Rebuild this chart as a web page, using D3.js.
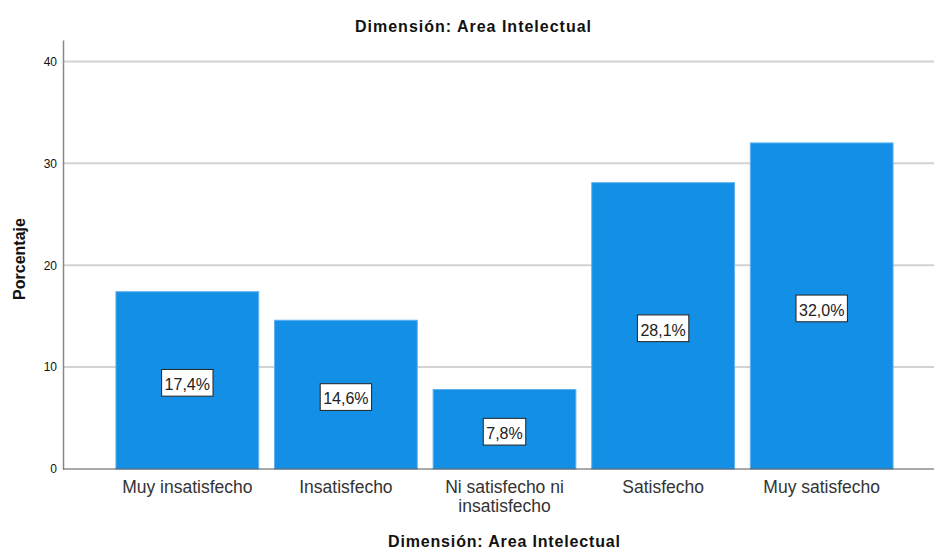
<!DOCTYPE html>
<html>
<head>
<meta charset="utf-8">
<script src="https://cdn.jsdelivr.net/npm/d3@7"></script>
<style>
  body { margin: 0; background: #fff; }
  svg { display: block; font-family: "Liberation Sans", Arial, sans-serif; }
</style>
</head>
<body>
<svg id="chart" width="934" height="548"></svg>
<script>
const categories = ["Muy insatisfecho", "Insatisfecho", "Ni satisfecho ni insatisfecho", "Satisfecho", "Muy satisfecho"];
const values = [17.4, 14.6, 7.8, 28.1, 32.0];
const yTicks = [0, 10, 20, 30, 40];
const chartTitle = "Dimensión: Area Intelectual";
const xTitle = "Dimensión: Area Intelectual";
const yTitle = "Porcentaje";

(function () {
const svg = d3.select("#chart");
const mLeft = 63, mRight = 934, mTop = 40, mBottom = 469;

const x = d3.scaleBand().domain(categories).range([108, 901]).paddingInner(0.1).paddingOuter(0.05);
const y = d3.scaleLinear().domain([0, 42.1]).range([mBottom, mTop]);

// gridlines
svg.append("g").selectAll("line").data(yTicks.filter(d => d > 0)).join("line")
  .attr("x1", mLeft).attr("x2", mRight)
  .attr("y1", d => y(d)).attr("y2", d => y(d))
  .attr("stroke", "#d2d2d2").attr("stroke-width", 2);

// bars
svg.append("g").selectAll("rect").data(values).join("rect")
  .attr("x", (d, i) => x(categories[i]))
  .attr("y", d => y(d))
  .attr("width", x.bandwidth())
  .attr("height", d => y(0) - y(d))
  .attr("fill", "#1390e6")
  .attr("stroke", "#5fb2f0").attr("stroke-width", 1);

// y axis
const yAxis = svg.append("g").attr("transform", `translate(${mLeft},0)`)
  .call(d3.axisLeft(y).tickValues(yTicks).tickSize(0).tickSizeOuter(0).tickPadding(6));
yAxis.select(".domain").attr("stroke", "#888").attr("stroke-width", 1.5);
yAxis.selectAll("text").attr("font-size", 12).attr("fill", "#111").attr("font-family", "Liberation Sans, Arial, sans-serif");

// x axis line
svg.append("line").attr("x1", mLeft).attr("x2", mRight).attr("y1", mBottom).attr("y2", mBottom)
  .attr("stroke", "#555").attr("stroke-width", 1.2);

// x axis labels
const xAxis = svg.append("g").attr("transform", `translate(0,${mBottom})`)
  .call(d3.axisBottom(x).tickSize(0).tickPadding(0));
xAxis.select(".domain").remove();
xAxis.selectAll("text")
  .attr("font-size", 17.5).attr("fill", "#333").attr("font-family", "Liberation Sans, Arial, sans-serif")
  .attr("dy", null).attr("y", 23.5)
  .each(function(d) {
    const t = d3.select(this);
    const words = d.split(" ");
    t.text(null);
    let lines = [], line = [];
    const tmp = t.append("tspan");
    words.forEach(w => {
      line.push(w);
      tmp.text(line.join(" "));
      if (tmp.node().getComputedTextLength() > 150 && line.length > 1) {
        line.pop(); lines.push(line.join(" ")); line = [w];
      }
    });
    lines.push(line.join(" "));
    tmp.remove();
    lines.forEach((l, i) => {
      t.append("tspan").attr("x", 0).attr("dy", i === 0 ? 0 : 19.5).text(l);
    });
  });

// value labels
const lab = svg.append("g").selectAll("g").data(values).join("g")
  .attr("transform", (d, i) => `translate(${x(categories[i]) + x.bandwidth() / 2},${(y(d) + y(0)) / 2 + 2.4})`);
lab.append("rect").attr("fill", "#fff").attr("stroke", "#222").attr("stroke-width", 1);
lab.append("text").attr("text-anchor", "middle").attr("y", 7.3)
  .attr("font-size", 16).attr("fill", "#222")
  .text(d => d.toFixed(1).replace(".", ",") + "%");
lab.each(function() {
  const g = d3.select(this);
  const w = g.select("text").node().getComputedTextLength();
  g.select("rect").attr("x", -w / 2 - 3).attr("y", -13.3).attr("width", w + 6).attr("height", 26.7);
});

// titles
svg.append("text").attr("x", 473).attr("y", 32).attr("text-anchor", "middle")
  .attr("font-size", 16).attr("font-weight", "bold").attr("fill", "#111")
  .attr("textLength", 236).attr("lengthAdjust", "spacing").text(chartTitle);
svg.append("text").attr("x", 504).attr("y", 546.5).attr("text-anchor", "middle")
  .attr("font-size", 16).attr("font-weight", "bold").attr("fill", "#111")
  .attr("textLength", 232).attr("lengthAdjust", "spacing").text(xTitle);
svg.append("text").attr("transform", "translate(25,259) rotate(-90)").attr("text-anchor", "middle")
  .attr("font-size", 16).attr("font-weight", "bold").attr("fill", "#111").text(yTitle);
})();
</script>
</body>
</html>
